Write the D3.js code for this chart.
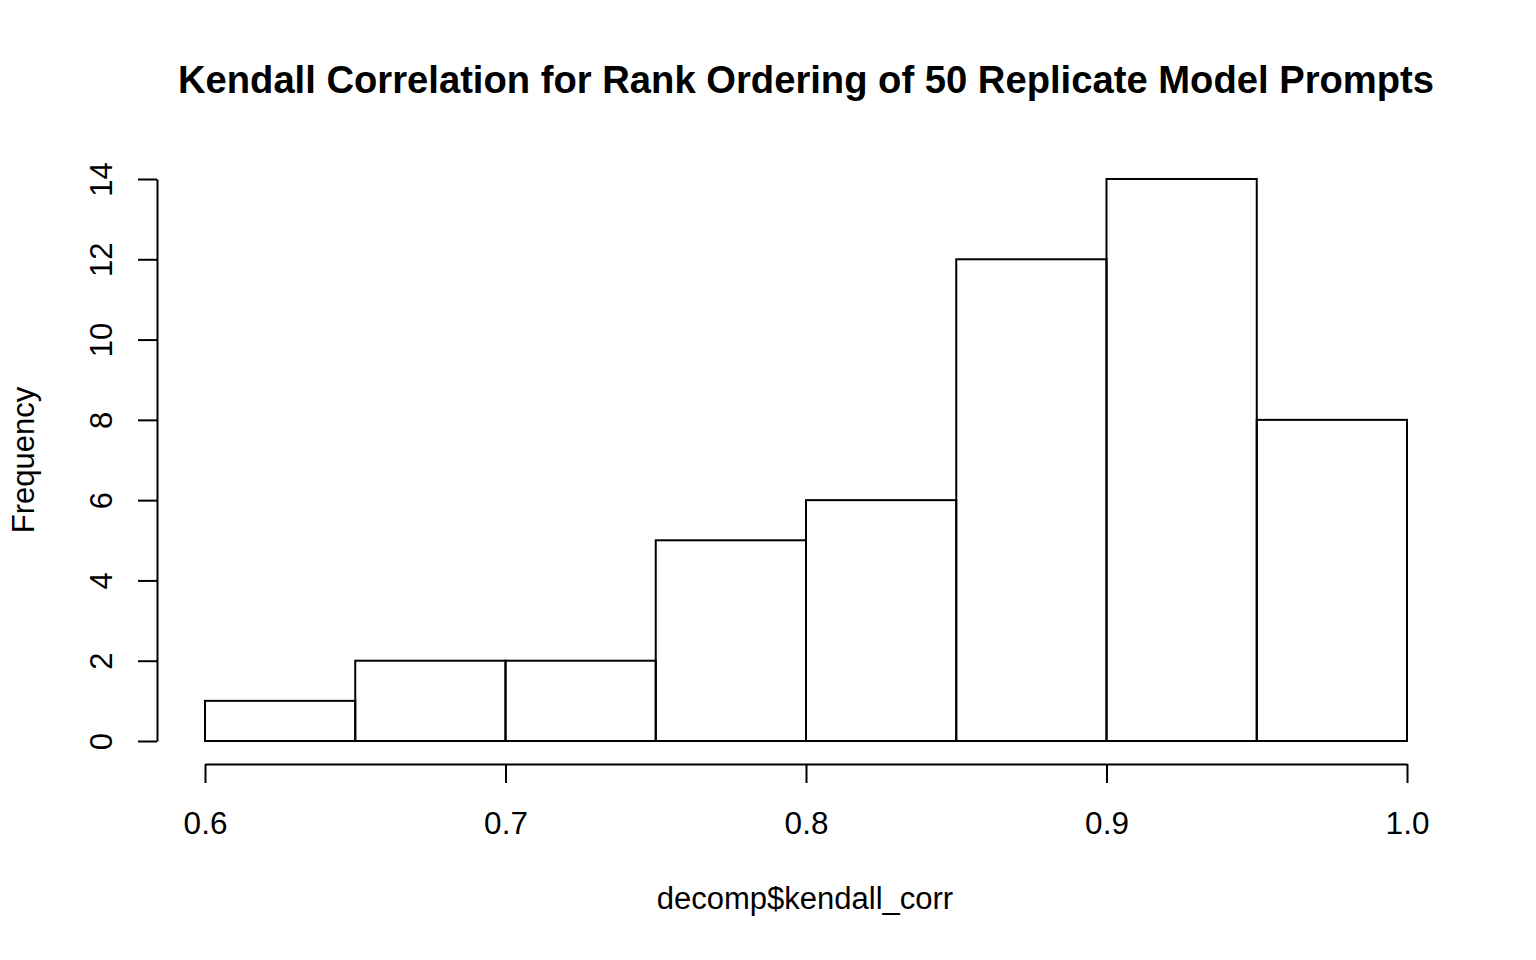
<!DOCTYPE html>
<html><head><meta charset="utf-8">
<script src="https://cdn.jsdelivr.net/npm/d3@7"></script>
<style>body{margin:0;background:#fff}svg{display:block}</style>
</head><body>
<svg id="c" width="1536" height="960"></svg>
<script>
const binStarts = [0.60,0.65,0.70,0.75,0.80,0.85,0.90,0.95];
const binWidth = 0.05;
const counts = [1,2,2,5,6,12,14,8];
const xTicks = [0.6,0.7,0.8,0.9,1.0];
const yTicks = [0,2,4,6,8,10,12,14];
const title = "Kendall Correlation for Rank Ordering of 50 Replicate Model Prompts";
const xLabel = "decomp$kendall_corr";
const yLabel = "Frequency";

const svg = d3.select("#c");
const font = "'Liberation Sans', Arial, sans-serif";
const x = d3.scaleLinear().domain([0.6,1.0]).range([205,1407]);
const y = d3.scaleLinear().domain([0,14]).range([741,179]);

svg.append("g").selectAll("rect").data(binStarts).join("rect")
  .attr("x", d=>x(d)).attr("width", d=>x(d+binWidth)-x(d))
  .attr("y", (d,i)=>y(counts[i])).attr("height",(d,i)=>y(0)-y(counts[i]))
  .attr("fill","none").attr("stroke","#000").attr("stroke-width",2);

// x axis
const xa = svg.append("g").attr("transform","translate(0,764)")
  .call(d3.axisBottom(x).tickValues(xTicks).tickFormat(d3.format(".1f")).tickSize(19).tickPadding(29).tickSizeOuter(0));
xa.select(".domain").attr("stroke-width",2);
xa.selectAll(".tick line").attr("stroke-width",2);
xa.selectAll("text").attr("font-family",font).attr("font-size",31.5).attr("fill","#000");

// y axis
const ya = svg.append("g").attr("transform","translate(157,0)")
  .call(d3.axisLeft(y).tickValues(yTicks).tickSize(19).tickSizeOuter(0));
ya.select(".domain").attr("stroke-width",2);
ya.selectAll(".tick line").attr("stroke-width",2);
ya.selectAll("text").remove();
ya.selectAll(".tick").append("text")
  .attr("transform","translate(-45,0) rotate(-90)")
  .attr("text-anchor","middle").attr("dy",0)
  .attr("font-family",font).attr("font-size",31).attr("fill","#000")
  .text(d=>d);

svg.append("text").attr("x",806).attr("y",93).attr("text-anchor","middle")
  .attr("font-family",font).attr("font-weight","bold").attr("font-size",38.2).text(title);
svg.append("text").attr("x",805).attr("y",909).attr("text-anchor","middle")
  .attr("font-family",font).attr("font-size",31).text(xLabel);
svg.append("text").attr("transform","translate(34,460) rotate(-90)").attr("text-anchor","middle")
  .attr("font-family",font).attr("font-size",31).text(yLabel);
</script>
</body></html>
